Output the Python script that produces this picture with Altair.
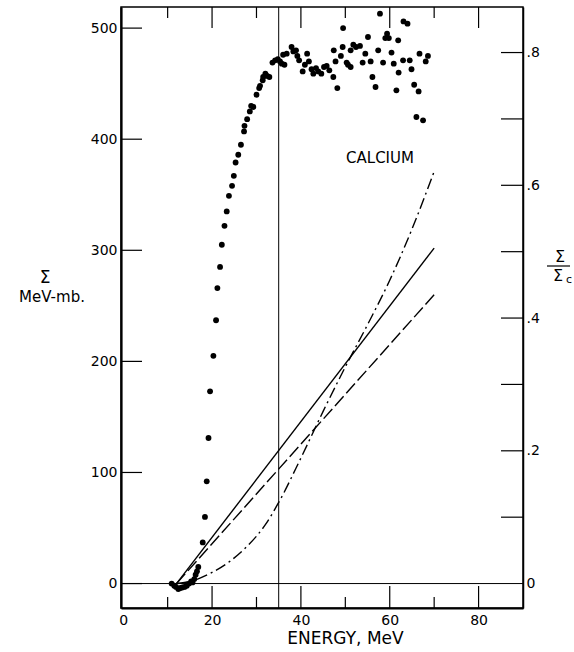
import altair as alt
import pandas as pd

# ---- data ----
energy = [10.9, 11.5, 11.9, 12.4, 12.9, 13.3, 13.8, 14.3, 14.8, 15.3, 15.6, 16.0, 16.3, 16.6, 16.9,
          17.9, 18.4, 18.8, 19.2, 19.55, 20.3, 20.9, 21.2, 21.8, 22.2, 22.8, 23.3, 23.8, 24.5, 24.9,
          25.3, 25.9, 26.5, 27.2, 27.3, 27.9, 28.5, 28.8, 29.3, 30.0, 30.6, 30.8, 31.4, 31.5, 32.0,
          32.4, 32.9, 33.6, 34.2, 34.8, 35.3, 35.7, 36.3, 36.0, 36.8, 37.9, 38.3, 38.9, 39.2, 39.6,
          40.4, 40.9, 41.4, 41.8, 42.4, 42.8, 43.4, 43.9, 44.6, 45.2, 45.8, 46.4, 47.3, 47.8, 48.2,
          47.4, 49.0, 49.4, 49.5, 50.3, 50.6, 51.2, 51.2, 51.8, 52.4, 53.3, 53.9, 54.5, 55.1, 55.7,
          56.1, 56.8, 57.4, 57.8, 58.5, 59.0, 59.4, 59.8, 60.4, 60.9, 61.5, 61.9, 62.0, 63.1, 64.0,
          63.0, 64.5, 64.9, 65.5, 66.0, 67.5, 66.5, 66.7, 68.1, 68.6]
sigma = [0, -2, -3, -5, -4, -3.5, -3, -2, 0, 2, 1, 4, 8, 11, 15,
         37, 60, 92, 131, 173, 205, 237, 266, 285, 305, 322, 335, 349, 358, 367,
         379, 386, 395, 407, 412, 418, 425, 430, 429, 440, 446, 448, 453, 456, 459,
         457, 456, 469, 471, 472, 470, 468, 467, 476, 477, 483, 479, 480, 475, 471,
         461, 467, 477, 470, 463, 459, 464, 461, 459, 465, 466, 462, 456, 470, 446,
         480, 475, 483, 500, 469, 467, 465, 480, 485, 483, 484, 469, 477, 492, 470,
         456, 447, 480, 513, 469, 491, 495, 491, 478, 468, 444, 489, 460, 506, 504,
         471, 471, 463, 449, 420, 417, 443, 477, 470, 475]

solid_energy = [12, 70]
solid_sigma = [0, 302]
dashed_energy = [12, 70]
dashed_sigma = [0, 260]
dashdot_energy = [12, 16, 20, 24, 28, 32, 35, 40, 45, 50, 55, 60, 65, 70]
dashdot_sigma = [0, 3, 10, 20, 34, 53, 73, 113, 155, 195, 233, 273, 319, 371]

x_labels = [0, 20, 40, 60, 80]
x_major_ticks = [20, 40, 60, 80]
x_minor_ticks = [10, 30, 50, 70]
left_ticks = [0, 100, 200, 300, 400, 500]
right_ticks = [0.1, 0.2, 0.3, 0.4, 0.5, 0.6, 0.7, 0.8]
right_labels = [0, 0.2, 0.4, 0.6, 0.8]
ref_energy = [35]
baseline = [0]
sigma_c = 597.5  # Σ value that corresponds to ratio 1 on the right axis

# ---- layout ----
W, H = 402, 601
FONT = "DejaVu Sans"
xs = alt.Scale(domain=[-0.5, 90], nice=False, zero=False)
ys = alt.Scale(domain=[-22, 519], nice=False, zero=False)
rs = alt.Scale(domain=[-22 / sigma_c, 519 / sigma_c], nice=False, zero=False)

x_axis = alt.Axis(values=x_labels, ticks=False, grid=False, labelPadding=5, labelFontSize=14,
                  domainWidth=2.2, title="ENERGY, MeV", titleFontSize=17, titleFontWeight="normal",
                  titleX=224, titleY=30, titleBaseline="middle", titleFont=FONT)
y_axis = alt.Axis(values=left_ticks, ticks=False, grid=False, labelPadding=4, labelFontSize=14,
                  domainWidth=2.2, title=None)

def X(f):
    return alt.X(f, scale=xs, axis=x_axis)

def Y(f):
    return alt.Y(f, scale=ys, axis=y_axis)

pts = pd.DataFrame({"E": energy, "S": sigma})
points = alt.Chart(pts).mark_circle(size=34, color="black", opacity=1).encode(
    x=X("E:Q"), y=Y("S:Q"))

def line(e, s, dash=None, interp="linear"):
    df = pd.DataFrame({"E": e, "S": s})
    kw = dict(color="black", strokeWidth=1.4, interpolate=interp)
    if dash:
        kw["strokeDash"] = dash
    return alt.Chart(df).mark_line(**kw).encode(x=X("E:Q"), y=Y("S:Q"))

solid = line(solid_energy, solid_sigma)
dashed = line(dashed_energy, dashed_sigma, [13, 4])
dashdot = line(dashdot_energy, dashdot_sigma, [11, 4, 2, 4], "monotone")

vline = alt.Chart(pd.DataFrame({"E": ref_energy})).mark_rule(color="black", strokeWidth=1).encode(
    x=X("E:Q"))
hline = alt.Chart(pd.DataFrame({"S": baseline})).mark_rule(color="black", strokeWidth=1).encode(
    y=Y("S:Q"))

def xticks(vals, y0, y1):
    return alt.Chart(pd.DataFrame({"E": vals})).mark_rule(color="black", strokeWidth=1.2).encode(
        x=X("E:Q"), y=alt.value(y0), y2=alt.value(y1))

top_major = xticks(x_major_ticks, 0, 21)
top_minor = xticks(x_minor_ticks, 0, 11)
bot_major = xticks(x_major_ticks, H, H - 22)
bot_minor = xticks(x_minor_ticks, H, H - 11)

left_t = alt.Chart(pd.DataFrame({"S": left_ticks})).mark_rule(color="black", strokeWidth=1.2).encode(
    y=Y("S:Q"), x=alt.value(0), x2=alt.value(21))

def txt(t, x, y, size, **kw):
    return alt.Chart(pd.DataFrame({"t": [t]})).mark_text(
        font=FONT, fontSize=size, color="black", align="center", baseline="middle", **kw
    ).encode(text="t:N", x=alt.value(x), y=alt.value(y))

calcium = txt("CALCIUM", 259, 151, 15)
lt1 = txt("Σ", -76, 271, 17)
lt2 = txt("MeV-mb.", -69, 290, 15)
rt1 = txt("Σ", 439, 250, 16)
rt2 = txt("Σ", 437, 269, 16)
rt3 = txt("c", 448, 273, 11)
frac = alt.Chart(pd.DataFrame({"t": [""]})).mark_rule(color="black", strokeWidth=1.2).encode(
    x=alt.value(426), x2=alt.value(449), y=alt.value(259))

left_layer = alt.layer(points, hline, vline, solid, dashed, dashdot,
                       top_major, top_minor, bot_major, bot_minor, left_t,
                       calcium, lt1, lt2, rt1, rt2, rt3, frac)

right_layer = alt.Chart(pd.DataFrame({"v": right_ticks})).mark_rule(color="black", strokeWidth=1.2).encode(
    y=alt.Y("v:Q", scale=rs, axis=alt.Axis(
        orient="right", values=right_labels, ticks=False, grid=False, labelPadding=3,
        labelFontSize=14, domainWidth=1.5, title=None,
        labelExpr="datum.value == 0 ? '0' : replace(format(datum.value, '.1f'), '0.', '.')")),
    x=alt.value(W - 22), x2=alt.value(W),
)

chart = alt.layer(left_layer, right_layer).resolve_scale(y="independent").properties(
    width=W, height=H,
    autosize=alt.AutoSizeParams(type="none"),
    padding={"left": 121, "top": 7, "right": 51, "bottom": 44},
    background="white",
).configure_view(stroke="black", strokeWidth=1.5).configure_axis(
    labelFont=FONT, labelColor="black", domainColor="black", titleColor="black"
)

chart.save("out.html", embed_options={"renderer": "svg", "actions": False})
